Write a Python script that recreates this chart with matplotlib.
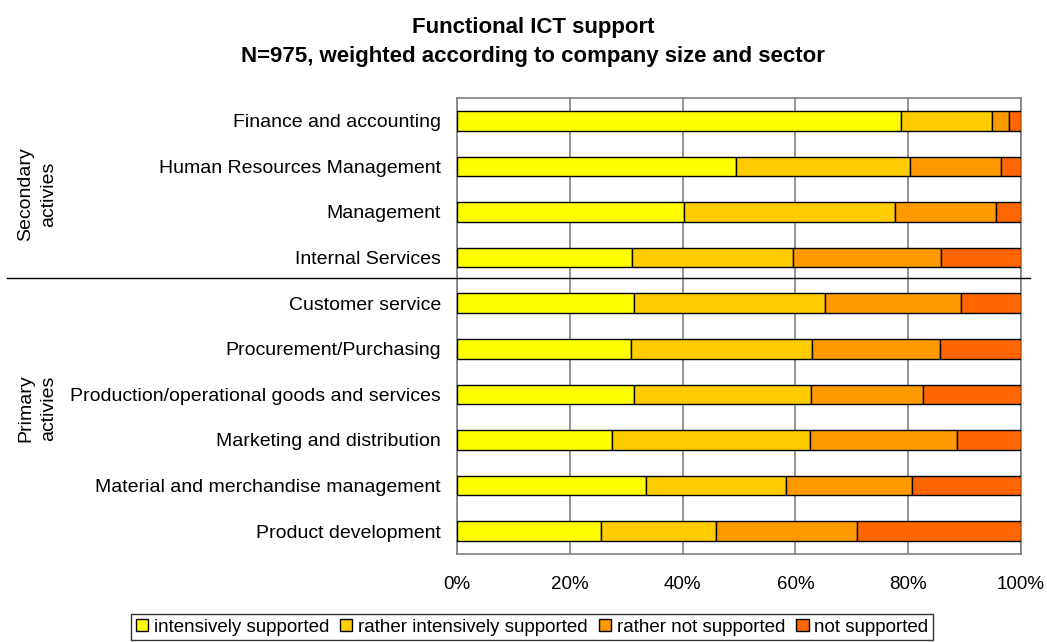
import matplotlib.pyplot as plt
from matplotlib.lines import Line2D

plt.rcParams['font.family'] = ['Liberation Sans', 'DejaVu Sans']

functions = [
    "Finance and accounting",
    "Human Resources Management",
    "Management",
    "Internal Services",
    "Customer service",
    "Procurement/Purchasing",
    "Production/operational goods and services",
    "Marketing and distribution",
    "Material and merchandise management",
    "Product development",
]
intensive = [78.8, 49.4, 40.2, 31.0, 31.3, 30.9, 31.3, 27.4, 33.5, 25.5]
rather_intensive = [16.0, 31.0, 37.5, 28.6, 33.9, 32.1, 31.4, 35.2, 24.9, 20.4]
rather_not = [3.0, 16.1, 17.9, 26.3, 24.2, 22.7, 19.9, 26.0, 22.3, 25.1]
not_supported = [2.2, 3.5, 4.4, 14.1, 10.6, 14.3, 17.4, 11.4, 19.3, 29.0]

series = [intensive, rather_intensive, rather_not, not_supported]
series_names = ["intensively supported", "rather intensively supported",
                "rather not supported", "not supported"]
colors = ["#FFFF00", "#FFCC00", "#FF9900", "#FF6600"]
xticks = [0, 20, 40, 60, 80, 100]

W, H = 1047, 642
fig = plt.figure(figsize=(W / 100, H / 100), dpi=100)
ax = fig.add_axes([457 / W, 1 - 554 / H, (1021 - 457) / W, (554 - 98) / H])

ypos = list(range(len(functions)))
left = [0.0] * len(functions)
for vals, name, col in zip(series, series_names, colors):
    ax.barh(ypos, vals, left=left, height=0.43, color=col, edgecolor='black',
            linewidth=1.0, label=name, zorder=3)
    left = [a + b for a, b in zip(left, vals)]

ax.set_xlim(0, 100)
ax.set_ylim(len(functions) - 0.5, -0.5)
ax.set_xticks(xticks)
ax.set_xticklabels([f"{t}%" for t in xticks], fontsize=13.5)
ax.set_yticks(ypos)
ax.set_yticklabels(functions, fontsize=14)
ax.tick_params(axis='both', length=0)
ax.tick_params(axis='y', pad=11.5)
ax.tick_params(axis='x', pad=16)
ax.grid(axis='x', color='#808080', linewidth=1.2, zorder=0)
for s in ax.spines.values():
    s.set_color('#808080')
    s.set_linewidth(1.2)

# separator between secondary and primary activities
sep_y = 1 - 278 / H
fig.add_artist(Line2D([7 / W, 1030 / W], [sep_y, sep_y], color='black', linewidth=1.0))

fig.text(37 / W, 1 - 194 / H, "Secondary\nactivies", rotation=90, ha='center',
         va='center', fontsize=14, multialignment='center', linespacing=1.45)
fig.text(37 / W, 1 - 408 / H, "Primary\nactivies", rotation=90, ha='center',
         va='center', fontsize=14, multialignment='center', linespacing=1.45)

fig.text(533 / W, 1 - 33 / H, "Functional ICT support",
         ha='center', va='baseline', fontsize=16, fontweight='bold')
fig.text(533 / W, 1 - 62 / H, "N=975, weighted according to company size and sector",
         ha='center', va='baseline', fontsize=16, fontweight='bold')

leg = fig.legend(loc='center', bbox_to_anchor=(532 / W, 1 - 627 / H), ncol=4,
                 fontsize=13.5, frameon=True, fancybox=False, handlelength=0.65,
                 handleheight=0.65, handletextpad=0.3, columnspacing=0.6,
                 borderpad=0.25, borderaxespad=0)
leg.get_frame().set_edgecolor('black')
leg.get_frame().set_linewidth(1.0)

fig.savefig("out.png", dpi=100)
